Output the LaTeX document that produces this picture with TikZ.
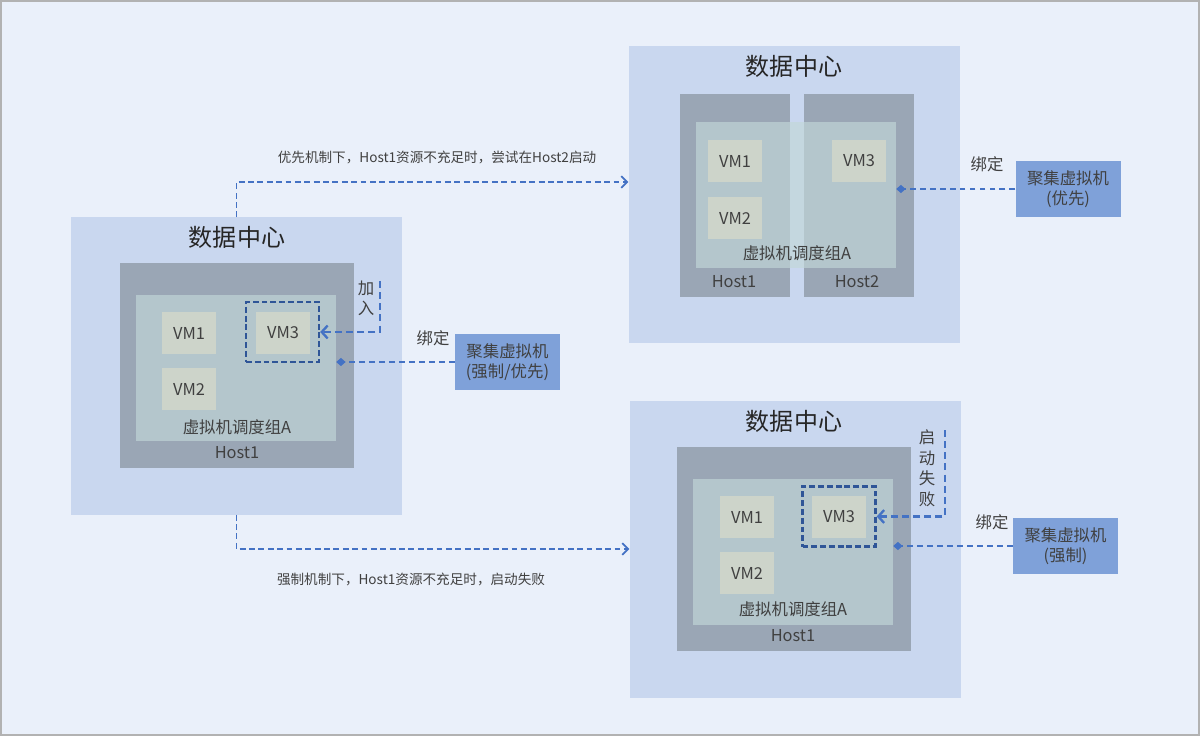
\documentclass[tikz,border=0pt]{standalone}
\usepackage{fontspec}
\setmainfont{Noto Sans CJK SC}
\usetikzlibrary{arrows.meta,positioning}
\definecolor{bgfill}{HTML}{EAF0FA}
\definecolor{dcfill}{HTML}{C9D7EF}
\definecolor{hostfill}{HTML}{9AA6B5}
\definecolor{grpfill}{HTML}{C2D8D8}
\definecolor{vmfill}{HTML}{CDD4CA}
\definecolor{aggfill}{HTML}{7FA1D9}
\definecolor{linkblue}{HTML}{4472C4}
\definecolor{selblue}{HTML}{2F5597}
\definecolor{txt}{HTML}{404040}
\newcommand{\pw}{0.03cm}
\newcommand{\titlefont}{\fontsize{20.5}{24}\selectfont}
\newcommand{\lblfont}{\fontsize{14}{17}\selectfont}
\newcommand{\notefont}{\fontsize{11.6}{14}\selectfont}

\begin{document}
\begin{tikzpicture}[x=\pw, y=-\pw]
    \tikzset{
        dc/.style = {fill=dcfill, minimum width=331*\pw, minimum height=297*\pw, inner sep=0},
        host/.style 2 args = {fill=hostfill, minimum width=#1*\pw, minimum height=#2*\pw, inner sep=0},
        grp/.style = {fill=grpfill, fill opacity=0.66, minimum width=200*\pw, minimum height=146*\pw, inner sep=0},
        vm/.style = {fill=vmfill, text=txt, font=\lblfont, minimum width=54*\pw, minimum height=42*\pw, inner sep=0},
        sel/.style = {draw=selblue, line width=2pt, dash pattern=on 5pt off 2.5pt, minimum width=73*\pw, minimum height=60*\pw},
        agg/.style = {fill=aggfill, text=txt, font=\lblfont, align=center, minimum width=105*\pw, minimum height=56*\pw, inner sep=0},
        title/.style = {text=black!85, font=\titlefont, inner sep=0},
        lbl/.style = {text=txt, font=\lblfont, align=center, inner sep=0},
        note/.style = {text=txt, font=\notefont, inner sep=0},
        bind/.style = {draw=linkblue, line width=1.5pt, dash pattern=on 5pt off 3.5pt, -{Diamond[length=8pt,width=7pt]}},
        joinarrow/.style = {draw=linkblue, line width=2pt, dash pattern=on 6pt off 3.5pt, -{Straight Barb[length=5pt,width=11pt]}},
        flow/.style = {draw=linkblue, line width=1.4pt, dash pattern=on 5pt off 3pt, -{Straight Barb[length=5pt,width=10pt]}}
    }
    \useasboundingbox (0,0) rectangle (1200,736);
    \fill[bgfill] (0,0) rectangle (1200,736);
    \draw[black!30, line width=1.2pt] (1,1) rectangle (1199,735);

    % left data centre
    \node[dc] (dcL) at (236.5,366) {};
    \node[title] (tL) at (237,237) {数据中心};
    \node[host={234}{205}] (hL) at (237,365.5) {};
    \node[grp] (gL) at (236,368) {};
    \foreach \n/\x/\y in {1/189/333, 2/189/389, 3/283/333} {
        \node[vm] (vmL\n) at (\x,\y) {VM\n};
    }
    \node[lbl] (glL) at (237,427) {虚拟机调度组A};
    \node[lbl] (hlL) at (237,453) {Host1};
    \node[sel] (sL) at (282.5,332) {};

    % top right: Host1 / Host2
    \node[dc] (dcT) at (794,194.5) {};
    \node[title] (tT) at (794,66) {数据中心};
    \node[host={110}{203}] (hT1) at (735,195.5) {};
    \node[host={110}{203}] (hT2) at (859,195.5) {};
    \node[grp] (gT) at (796,195) {};
    \foreach \n/\x/\y in {1/735/161, 2/735/218, 3/859/161} {
        \node[vm] (vmT\n) at (\x,\y) {VM\n};
    }
    \node[lbl] (glT) at (797,253) {虚拟机调度组A};
    \node[lbl] (hlT1) at (734,282) {Host1};
    \node[lbl] (hlT2) at (857,282) {Host2};

    % bottom right: start fails
    \node[dc] (dcB) at (795,549) {};
    \node[title] (tB) at (794,421) {数据中心};
    \node[host={234}{204}] (hB) at (794,549) {};
    \node[grp] (gB) at (793,551.5) {};
    \foreach \n/\x/\y in {1/747/517, 2/747/573, 3/839/517} {
        \node[vm] (vmB\n) at (\x,\y) {VM\n};
    }
    \node[lbl] (glB) at (793,609) {虚拟机调度组A};
    \node[lbl] (hlB) at (793,636) {Host1};
    \node[sel] (sB) at (839,516.5) {};

    % affinity groups
    \node[agg] (aggL) at (507.5,362) {聚集虚拟机\\(强制/优先)};
    \node[agg] (aggT) at (1068,189) {聚集虚拟机\\(优先)};
    \node[agg] (aggB) at (1065.5,546) {聚集虚拟机\\(强制)};
    \draw[bind] (aggL.west) -- (aggL.west -| gL.east);
    \draw[bind] (aggT.west) -- (aggT.west -| gT.east);
    \draw[bind] (aggB.west) -- (aggB.west -| gB.east);
    \node[lbl] (bdL) at (433,338) {绑定};
    \node[lbl] (bdT) at (987,164) {绑定};
    \node[lbl] (bdB) at (992,522) {绑定};

    \coordinate (jL) at (380,281);
    \draw[joinarrow] (jL) |- (sL.east);
    \node[lbl] (jlL) at (366,298) {加\\入};
    \coordinate (fB) at (945,430);
    \draw[joinarrow] (fB) |- (sB.east);
    \node[lbl, font=\fontsize{14}{17.5}\selectfont] (flB) at (927,468) {启\\动\\失\\败};

    \draw[flow] (dcL.north) |- ([yshift=12.5*\pw]dcT.west);
    \draw[flow] (dcL.south) |- (dcB.west);
    \node[note] (nT) at (437,157) {优先机制下，Host1资源不充足时，尝试在Host2启动};
    \node[note] (nB) at (411,579) {强制机制下，Host1资源不充足时，启动失败};
\end{tikzpicture}
\end{document}
